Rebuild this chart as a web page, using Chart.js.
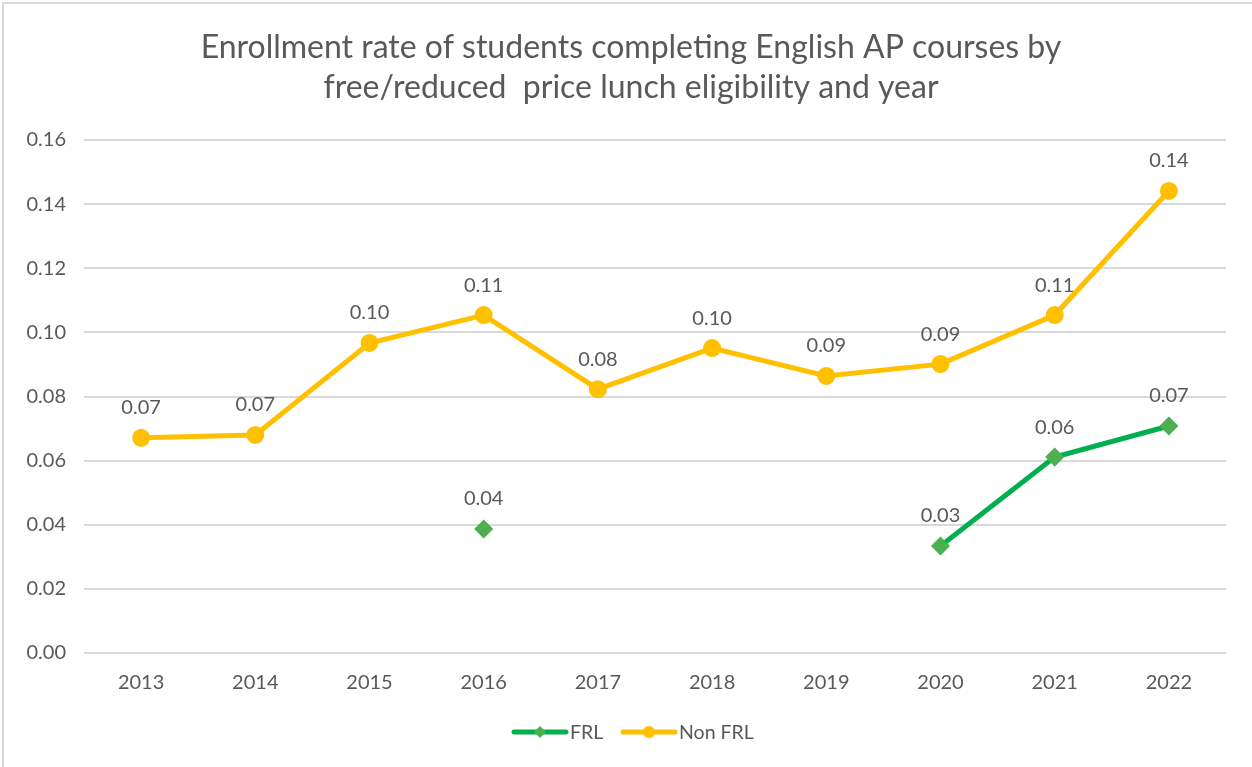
<!DOCTYPE html>
<html>
<head>
<meta charset="utf-8">
<script src="https://cdn.jsdelivr.net/npm/chart.js@4.4.1/dist/chart.umd.min.js"></script>
<style>
  html, body { margin: 0; padding: 0; background: #ffffff; overflow: hidden; }
  #frame { position: absolute; left: 2px; top: 2px; width: 1300px; height: 820px; border: 2px solid #d9d9d9; box-sizing: border-box; }
  #wrap { position: absolute; left: 0; top: 0; width: 1252px; height: 767px; }
</style>
</head>
<body>
<div id="frame"></div>
<div id="wrap"><canvas id="c" width="1252" height="767"></canvas></div>
<script>
const titleLines = ["Enrollment rate of students completing English AP courses by", "free/reduced  price lunch eligibility and year"];
const years = ["2013", "2014", "2015", "2016", "2017", "2018", "2019", "2020", "2021", "2022"];
const frlValues = [null, null, null, 0.0387, null, null, null, 0.0334, 0.0611, 0.0708];
const nonFrlValues = [0.0671, 0.0680, 0.0967, 0.1054, 0.0823, 0.0951, 0.0864, 0.0901, 0.1054, 0.1441];
const seriesNames = ["FRL", "Non FRL"];
const yTicks = [0, 0.02, 0.04, 0.06, 0.08, 0.10, 0.12, 0.14, 0.16];

const FONT = "Lato, 'Open Sans', sans-serif";
const TXT = "#595959";
const GREEN = "#00B050";
const ORANGE = "#FFC000";

const titlePlugin = {
  id: 'titleDraw',
  afterDraw(chart) {
    const ctx = chart.ctx;
    ctx.save();
    ctx.fillStyle = TXT;
    ctx.font = "32px " + FONT;
    ctx.textAlign = "center";
    ctx.textBaseline = "middle";
    ctx.fillText(titleLines[0], 631, 48);
    ctx.fillText(titleLines[1], 631, 88);
    ctx.restore();
  }
};

const labelPlugin = {
  id: 'valueLabels',
  afterDatasetsDraw(chart) {
    const ctx = chart.ctx;
    ctx.save();
    ctx.fillStyle = TXT;
    ctx.font = "20px " + FONT;
    ctx.textAlign = "center";
    ctx.textBaseline = "middle";
    chart.data.datasets.forEach((ds, i) => {
      const meta = chart.getDatasetMeta(i);
      meta.data.forEach((pt, j) => {
        const v = ds.data[j];
        if (v === null || v === undefined) return;
        ctx.fillText(v.toFixed(2), pt.x, pt.y - 30);
      });
    });
    ctx.restore();
  }
};

const legendPlugin = {
  id: 'customLegend',
  afterDraw(chart) {
    const ctx = chart.ctx;
    const y = 732;
    const items = [
      { name: seriesNames[0], color: GREEN, fill: "#4CAF50", style: 'diamond', x: 514 },
      { name: seriesNames[1], color: ORANGE, fill: ORANGE, style: 'circle', x: 623 }
    ];
    ctx.save();
    items.forEach(it => {
      ctx.strokeStyle = it.color;
      ctx.lineWidth = 5;
      ctx.lineCap = 'round';
      ctx.beginPath();
      ctx.moveTo(it.x, y);
      ctx.lineTo(it.x + 52, y);
      ctx.stroke();
      const cx = it.x + 26;
      ctx.fillStyle = it.fill;
      ctx.beginPath();
      if (it.style === 'diamond') {
        ctx.moveTo(cx, y - 6); ctx.lineTo(cx + 6, y); ctx.lineTo(cx, y + 6); ctx.lineTo(cx - 6, y); ctx.closePath();
      } else {
        ctx.arc(cx, y, 6, 0, Math.PI * 2);
      }
      ctx.fill();
      ctx.fillStyle = TXT;
      ctx.font = "19.5px " + FONT;
      ctx.textAlign = 'left';
      ctx.textBaseline = 'middle';
      ctx.fillText(it.name, it.x + 56, y + 1);
    });
    ctx.restore();
  }
};

new Chart(document.getElementById('c'), {
  type: 'line',
  data: {
    labels: years,
    datasets: [
      {
        label: seriesNames[0],
        data: frlValues,
        borderColor: GREEN,
        backgroundColor: "#4CAF50",
        pointBackgroundColor: "#4CAF50",
        pointBorderColor: "#4CAF50",
        borderWidth: 5,
        pointStyle: 'rectRot',
        pointRadius: 6,
        pointHoverRadius: 6,
        spanGaps: false,
        tension: 0
      },
      {
        label: seriesNames[1],
        data: nonFrlValues,
        borderColor: ORANGE,
        backgroundColor: ORANGE,
        pointBackgroundColor: ORANGE,
        pointBorderColor: ORANGE,
        borderWidth: 5,
        pointStyle: 'circle',
        pointRadius: 6.5,
        pointHoverRadius: 6.5,
        tension: 0
      }
    ]
  },
  options: {
    responsive: false,
    animation: false,
    layout: { padding: { top: 140, right: 26, bottom: 54, left: 0 } },
    plugins: {
      legend: { display: false },
      title: { display: false },
      tooltip: { enabled: false }
    },
    scales: {
      x: {
        offset: true,
        grid: { display: false, drawTicks: false },
        border: { display: false },
        ticks: { color: TXT, font: { family: FONT, size: 20 }, padding: 18, maxRotation: 0 },
        afterFit(s) { s.height = 60; }
      },
      y: {
        min: 0,
        max: 0.16,
        afterBuildTicks(s) { s.ticks = yTicks.map(v => ({ value: v })); },
        grid: { color: "#d9d9d9", lineWidth: 2, drawTicks: false },
        border: { display: false },
        ticks: { color: TXT, font: { family: FONT, size: 20 }, padding: 18, callback: v => Number(v).toFixed(2) },
        afterFit(s) { s.width = 84; }
      }
    }
  },
  plugins: [titlePlugin, labelPlugin, legendPlugin]
});
</script>
</body>
</html>
